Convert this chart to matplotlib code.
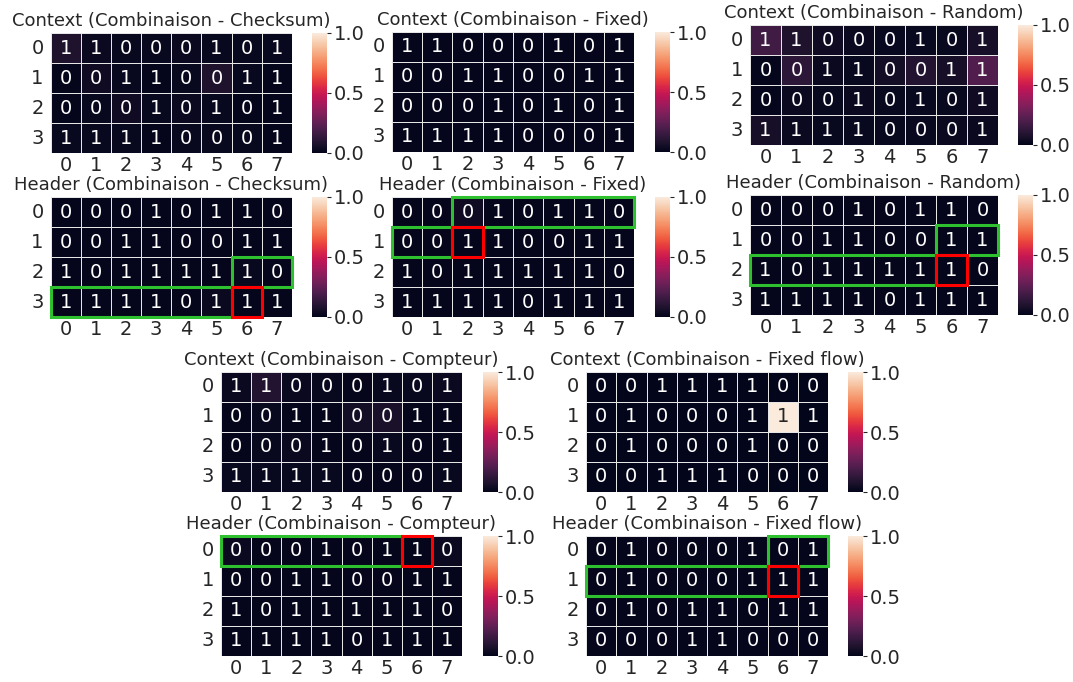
import numpy as np
import matplotlib
matplotlib.use("Agg")
import matplotlib.pyplot as plt
import seaborn as sns
from matplotlib.patches import Rectangle

# ---------------- data ----------------
row_labels = [0, 1, 2, 3]
col_labels = [0, 1, 2, 3, 4, 5, 6, 7]

context_bits = [[1, 1, 0, 0, 0, 1, 0, 1],
                [0, 0, 1, 1, 0, 0, 1, 1],
                [0, 0, 0, 1, 0, 1, 0, 1],
                [1, 1, 1, 1, 0, 0, 0, 1]]
header_bits = [[0, 0, 0, 1, 0, 1, 1, 0],
               [0, 0, 1, 1, 0, 0, 1, 1],
               [1, 0, 1, 1, 1, 1, 1, 0],
               [1, 1, 1, 1, 0, 1, 1, 1]]
context_bits_flow = [[0, 0, 1, 1, 1, 1, 0, 0],
                     [0, 1, 0, 0, 0, 1, 1, 1],
                     [0, 1, 0, 0, 0, 1, 0, 0],
                     [0, 0, 1, 1, 1, 0, 0, 0]]
header_bits_flow = [[0, 1, 0, 0, 0, 1, 0, 1],
                    [0, 1, 0, 0, 0, 1, 1, 1],
                    [0, 1, 0, 1, 1, 0, 1, 1],
                    [0, 0, 0, 1, 1, 0, 0, 0]]

# attention-like weights (colour values)
ctx_checksum = [[0.08, 0.03, 0.02, 0.02, 0.03, 0.02, 0.02, 0.02],
                [0.01, 0.04, 0.02, 0.01, 0.02, 0.08, 0.02, 0.01],
                [0.01, 0.02, 0.04, 0.02, 0.03, 0.02, 0.01, 0.01],
                [0.02, 0.02, 0.02, 0.01, 0.02, 0.02, 0.02, 0.01]]
ctx_fixed = [[0.01, 0.01, 0.01, 0.01, 0.01, 0.01, 0.01, 0.01],
             [0.01, 0.01, 0.01, 0.01, 0.01, 0.01, 0.01, 0.01],
             [0.01, 0.01, 0.01, 0.01, 0.01, 0.01, 0.01, 0.01],
             [0.01, 0.01, 0.01, 0.01, 0.01, 0.01, 0.01, 0.01]]
ctx_random = [[0.17, 0.08, 0.04, 0.03, 0.02, 0.02, 0.02, 0.06],
              [0.01, 0.12, 0.03, 0.02, 0.05, 0.09, 0.06, 0.21],
              [0.01, 0.03, 0.02, 0.03, 0.02, 0.02, 0.02, 0.04],
              [0.06, 0.03, 0.02, 0.02, 0.02, 0.02, 0.03, 0.03]]
ctx_compteur = [[0.03, 0.09, 0.03, 0.02, 0.01, 0.02, 0.02, 0.03],
                [0.01, 0.02, 0.01, 0.01, 0.05, 0.07, 0.01, 0.01],
                [0.01, 0.02, 0.03, 0.01, 0.01, 0.02, 0.01, 0.01],
                [0.02, 0.02, 0.02, 0.02, 0.01, 0.01, 0.01, 0.02]]
ctx_fixed_flow = [[0.0, 0.0, 0.0, 0.0, 0.0, 0.0, 0.0, 0.0],
                  [0.0, 0.0, 0.0, 0.0, 0.0, 0.0, 1.0, 0.0],
                  [0.0, 0.0, 0.0, 0.0, 0.0, 0.0, 0.0, 0.0],
                  [0.0, 0.0, 0.0, 0.0, 0.0, 0.0, 0.0, 0.0]]
hdr_checksum = [[0.01, 0.01, 0.01, 0.01, 0.01, 0.01, 0.01, 0.01],
                [0.01, 0.01, 0.01, 0.01, 0.01, 0.01, 0.01, 0.01],
                [0.01, 0.01, 0.01, 0.01, 0.01, 0.01, 0.02, 0.01],
                [0.01, 0.01, 0.01, 0.01, 0.01, 0.03, 0.01, 0.01]]
hdr_fixed = [[0.01, 0.01, 0.04, 0.01, 0.01, 0.01, 0.01, 0.01],
             [0.01, 0.01, 0.01, 0.01, 0.01, 0.01, 0.01, 0.01],
             [0.01, 0.01, 0.01, 0.01, 0.01, 0.01, 0.01, 0.01],
             [0.01, 0.01, 0.01, 0.01, 0.01, 0.01, 0.01, 0.01]]
hdr_random = [[0.01, 0.01, 0.01, 0.01, 0.01, 0.01, 0.01, 0.01],
              [0.01, 0.01, 0.01, 0.01, 0.01, 0.01, 0.01, 0.01],
              [0.01, 0.01, 0.01, 0.01, 0.01, 0.01, 0.01, 0.01],
              [0.01, 0.01, 0.01, 0.01, 0.01, 0.01, 0.01, 0.01]]
hdr_compteur = [[0.03, 0.01, 0.01, 0.01, 0.01, 0.01, 0.01, 0.03],
                [0.01, 0.01, 0.01, 0.01, 0.01, 0.01, 0.01, 0.01],
                [0.01, 0.01, 0.01, 0.01, 0.01, 0.01, 0.01, 0.01],
                [0.01, 0.01, 0.01, 0.01, 0.01, 0.01, 0.01, 0.01]]
hdr_fixed_flow = [[0.01, 0.01, 0.01, 0.01, 0.01, 0.01, 0.01, 0.01],
                  [0.01, 0.01, 0.01, 0.01, 0.01, 0.01, 0.01, 0.01],
                  [0.01, 0.01, 0.01, 0.01, 0.01, 0.01, 0.01, 0.01],
                  [0.01, 0.01, 0.01, 0.01, 0.01, 0.01, 0.01, 0.01]]

# highlighted (red) cell in each header map: (row, col); green = preceding window
red_checksum = (3, 6)
red_fixed = (1, 2)
red_random = (2, 6)
red_compteur = (0, 6)
red_fixed_flow = (1, 6)
window = 8

# ---------------- layout (pixels: x0, y0, x1, y1 of heatmap; cbar x0, x1) ----------------
W, H = 1073, 682
panels = [
    ("Context (Combinaison - Checksum)", ctx_checksum, context_bits, None, (50.5, 33, 292, 153), (312, 327)),
    ("Context (Combinaison - Fixed)", ctx_fixed, context_bits, None, (392, 32, 634, 152), (655, 670)),
    ("Context (Combinaison - Random)", ctx_random, context_bits, None, (750, 25, 998, 145), (1018, 1033)),
    ("Header (Combinaison - Checksum)", hdr_checksum, header_bits, red_checksum, (50.5, 197, 292, 317), (312, 327)),
    ("Header (Combinaison - Fixed)", hdr_fixed, header_bits, red_fixed, (392, 197, 634, 317), (655, 670)),
    ("Header (Combinaison - Random)", hdr_random, header_bits, red_random, (750, 195, 998, 315), (1018, 1033)),
    ("Context (Combinaison - Compteur)", ctx_compteur, context_bits, None, (221, 372, 462, 492), (483, 498)),
    ("Context (Combinaison - Fixed flow)", ctx_fixed_flow, context_bits_flow, None, (586, 372, 828, 492), (848, 863)),
    ("Header (Combinaison - Compteur)", hdr_compteur, header_bits, red_compteur, (221, 536, 462, 656), (483, 498)),
    ("Header (Combinaison - Fixed flow)", hdr_fixed_flow, header_bits_flow, red_fixed_flow, (586, 536, 828, 656), (848, 863)),
]

sns.set_style("white")
plt.rcParams['font.family'] = ['DejaVu Sans']
plt.rcParams['text.color'] = '#262626'
plt.rcParams['xtick.color'] = '#262626'
plt.rcParams['ytick.color'] = '#262626'

fig = plt.figure(figsize=(W / 100, H / 100), dpi=100)


def frac(x0, y0, x1, y1):
    return [x0 / W, 1 - y1 / H, (x1 - x0) / W, (y1 - y0) / H]


ncols = len(col_labels)
for title, vals, bits, red, (x0, y0, x1, y1), (c0, c1) in panels:
    ax = fig.add_axes(frac(x0, y0, x1, y1))
    cax = fig.add_axes(frac(c0, y0, c1, y1))
    sns.heatmap(np.array(vals), ax=ax, cbar_ax=cax, vmin=0, vmax=1, cmap="rocket",
                annot=np.array(bits), fmt="d", linewidths=0.6, linecolor="#e6e6e6",
                annot_kws={"size": 14},
                xticklabels=col_labels, yticklabels=row_labels)
    ax.set_title(title, fontsize=13, pad=5)
    ax.tick_params(axis="x", length=0, labelsize=14, pad=2.5)
    ax.tick_params(axis="y", length=0, labelsize=14, pad=5)
    ax.set_yticklabels(row_labels, rotation=0)
    ax.set_xticklabels(col_labels, rotation=0)
    cax.tick_params(length=3, width=0.8, labelsize=14, pad=2)
    cax.set_yticks([0.0, 0.5, 1.0])
    cax.set_yticklabels(["0.0", "0.5", "1.0"])
    if red is not None:
        r_idx = red[0] * ncols + red[1]
        start = max(0, r_idx - window)
        for row in range(len(row_labels)):
            a = max(start, row * ncols)
            b = min(r_idx, (row + 1) * ncols)
            if b > a:
                ax.add_patch(Rectangle((a - row * ncols, row), b - a, 1, fill=False,
                                       edgecolor="#2ec02e", lw=2.2, clip_on=False, zorder=5))
        ax.add_patch(Rectangle((red[1], red[0]), 1, 1, fill=False,
                               edgecolor="red", lw=2.2, clip_on=False, zorder=6))

fig.savefig("out.png", dpi=100)
